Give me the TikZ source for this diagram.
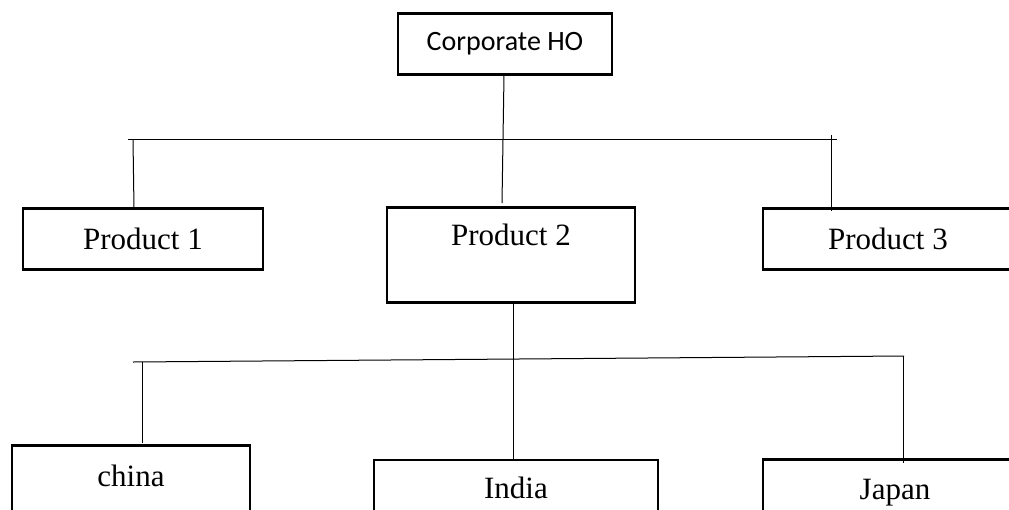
\documentclass[tikz,border=0pt]{standalone}
\usepackage{fontspec}
\setmainfont{Liberation Serif}
\newfontfamily\hofont{Carlito}
\begin{document}
\begin{tikzpicture}[x=1pt,y=-1pt,
  box/.style={draw=black, line width=2.5pt, inner xsep=0pt, inner ysep=0pt,
    anchor=north, font=\fontsize{31}{37}\selectfont},
  wire/.style={draw=black, line width=1pt}]
\useasboundingbox (0,0) rectangle (1009,509);
\clip (0,0) rectangle (1009,509);

% head office
\node[box, font=\hofont\fontsize{28}{34}\selectfont, minimum width=214pt,
  text height=37pt, text depth=24pt] (ho) at (505,12) {Corporate HO};

% product divisions
\node[box, minimum width=240pt, text height=41pt, text depth=20pt] (p1) at (143,207) {Product 1};
\node[box, minimum width=248pt, text height=38pt, text depth=57pt] (p2) at (511,206) {Product 2};
\node[box, minimum width=250pt, text height=41pt, text depth=20pt] (p3) at (888,207) {Product 3};

% countries under Product 2
\node[box, minimum width=238pt, text height=41pt, text depth=60pt] (c1) at (131,444) {china};
\node[box, minimum width=284pt, text height=38.5pt, text depth=60pt] (c2) at (516,458.5) {India};
\node[box, minimum width=264pt, text height=40pt, text depth=60pt] (c3) at (895,458) {Japan};

% first level bus
\coordinate (b1w) at (128,139);
\coordinate (b1e) at (837,139);
\coordinate (t1) at (133,139);
\coordinate (t3) at (831,135);
\draw[wire] (b1w) -- (b1e);
\draw[wire] ([xshift=-1pt]ho.south) -- ([xshift=-9pt,yshift=3pt]p2.north);
\draw[wire] (t1) -- ([xshift=-9pt,yshift=-2pt]p1.north);
\draw[wire] (t3) -- ([xshift=-57pt,yshift=-4pt]p3.north);

% second level bus
\coordinate (b2w) at (133,362);
\coordinate (b2e) at (904,356);
\coordinate (u1) at (142,362);
\coordinate (u3) at (903,356);
\draw[wire] (b2w) -- (b2e);
\draw[wire] ([xshift=2pt]p2.south) -- ([xshift=-3pt]c2.north);
\draw[wire] (u1) -- ([xshift=11pt,yshift=1pt]c1.north);
\draw[wire] (u3) -- ([xshift=8pt,yshift=-5pt]c3.north);
\end{tikzpicture}
\end{document}
